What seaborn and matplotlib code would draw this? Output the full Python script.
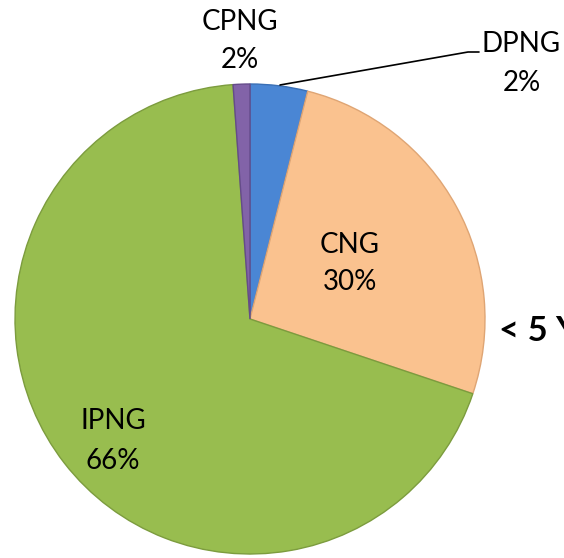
import matplotlib
matplotlib.use("Agg")
import matplotlib.pyplot as plt
import seaborn as sns

# ─── DATA (slice sizes, labels as printed) ────────────────────────────────
categories = ['DPNG', 'CNG', 'IPNG', 'CPNG']
shares = [3.95, 26.2, 68.7, 1.15]
pct_labels = ['2%', '30%', '66%', '2%']
side_note = '< 5 Y'

colors = ['#4a86d4', '#fac28f', '#98bd4f', '#8263a8']
edges = ['#3a6fb5', '#dfa574', '#7c9c3e', '#654b8a']

sns.set_theme(style="white")
plt.rcParams['font.family'] = ['Lato', 'DejaVu Sans']

# 1 data unit = 235 px, pie centre at pixel (250, 319)
fig = plt.figure(figsize=(5.64, 5.58), dpi=100)
ax = fig.add_axes([0, 0, 1, 1])

wedges, _ = ax.pie(shares, colors=colors, startangle=90, counterclock=False,
                   radius=1.0, wedgeprops=dict(linewidth=1.0))
for w, ec in zip(wedges, edges):
    w.set_edgecolor(ec)


def px(x, y):
    return (x - 250) / 235, (319 - y) / 235


txt = dict(ha='center', va='center', fontsize=20, color='black')
# label placement (pixel positions of the original)
ax.text(*px(350, 245), categories[1], **txt)
ax.text(*px(350, 282), pct_labels[1], **txt)
ax.text(*px(113, 421), categories[2], **txt)
ax.text(*px(113, 461), pct_labels[2], **txt)
ax.text(*px(240, 22), categories[3], **txt)
ax.text(*px(240, 60), pct_labels[3], **txt)
ax.text(*px(521, 44), categories[0], **txt)
ax.text(*px(522, 83), pct_labels[0], **txt)

# leader line for DPNG
lx = [px(280, 85)[0], px(468, 52)[0], px(479, 52)[0]]
ly = [px(280, 85)[1], px(468, 52)[1], px(479, 52)[1]]
ax.plot(lx, ly, color='black', lw=1.2)

# the original crops this note at the right edge
ax.text(*px(499, 331), side_note, ha='left', va='center', fontsize=25,
        fontweight='bold', color='black')

ax.set_xlim(-250 / 235, 314 / 235)
ax.set_ylim(-239 / 235, 319 / 235)
ax.set_aspect('auto')
ax.axis('off')

fig.savefig('out.png', dpi=100, facecolor='white')
